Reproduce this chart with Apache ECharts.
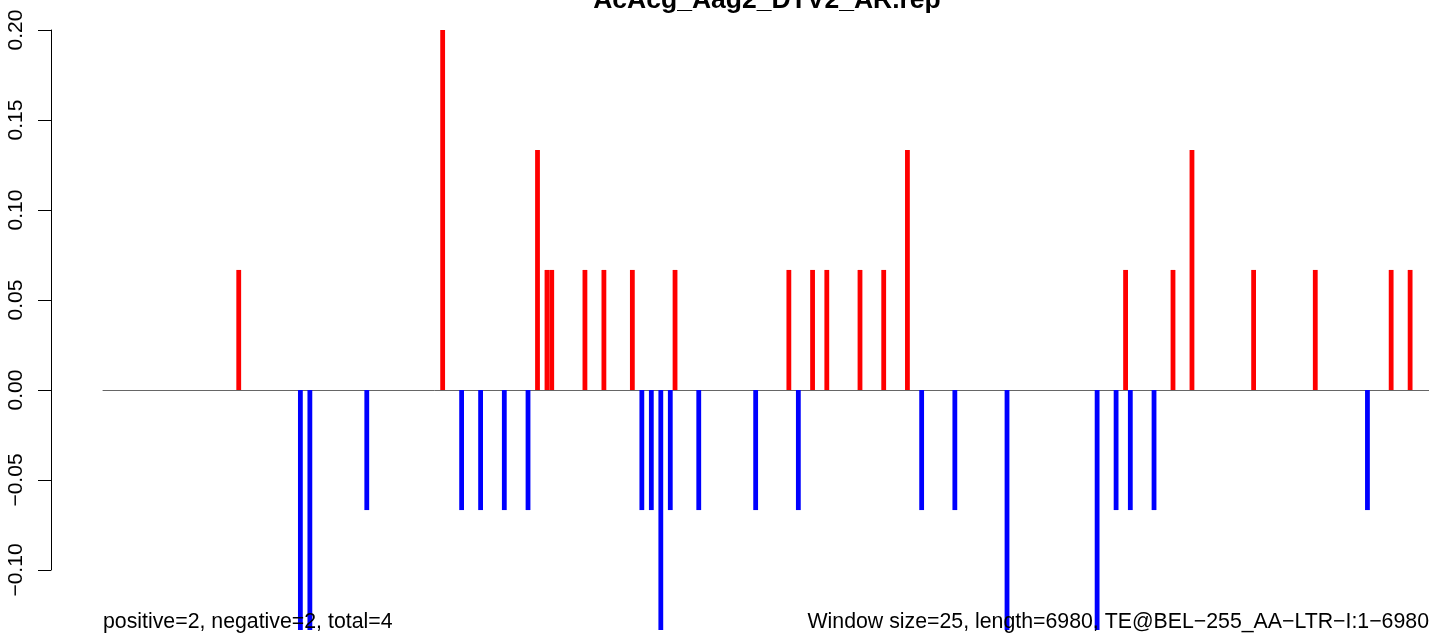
<!DOCTYPE html>
<html><head><meta charset="utf-8">
<script src="https://cdn.jsdelivr.net/npm/echarts@6/dist/echarts.min.js"></script>
<style>html,body{margin:0;padding:0;background:#fff;}#chart{width:1429px;height:634px;}</style>
</head><body><div id="chart"></div>
<script>
const chartTitle = 'AcAcg_Aag2_DTV2_AR.rep';
const footLeft = 'positive=2, negative=2, total=4';
const footRight = 'Window size=25, length=6980, TE@BEL\u2212255_AA\u2212LTR\u2212I:1\u22126980';

// window index (25 bp windows) and value
const posWindows = [28, 71, 91, 93, 94, 101, 105, 111, 120, 144, 149, 152, 159, 164, 169, 215, 225, 229, 242, 255, 271, 275];
const posValues  = [0.0667, 0.2, 0.1333, 0.0667, 0.0667, 0.0667, 0.0667, 0.0667, 0.0667, 0.0667, 0.0667, 0.0667, 0.0667, 0.0667, 0.1333, 0.0667, 0.0667, 0.1333, 0.0667, 0.0667, 0.0667, 0.0667];
const negWindows = [41, 43, 55, 75, 79, 84, 89, 113, 115, 117, 119, 125, 137, 146, 172, 179, 190, 209, 213, 216, 221, 266];
const negValues  = [-0.1333, -0.1333, -0.0667, -0.0667, -0.0667, -0.0667, -0.0667, -0.0667, -0.0667, -0.1333, -0.0667, -0.0667, -0.0667, -0.0667, -0.0667, -0.0667, -0.1333, -0.1333, -0.0667, -0.0667, -0.0667, -0.0667];
const yTicks = [-0.10, -0.05, 0.00, 0.05, 0.10, 0.15, 0.20];

const FONT = 'Liberation Sans, Arial, Helvetica, sans-serif';
const chart = echarts.init(document.getElementById('chart'), null, {renderer: 'canvas'});
chart.setOption({
  animation: false,
  backgroundColor: '#ffffff',
  title: [
    {text: chartTitle, left: 767, top: -12, padding: 0, textAlign: 'center', textVerticalAlign: 'top',
     textStyle: {fontFamily: FONT, fontSize: 26.5, fontWeight: 'bold', color: '#000', lineHeight: 26}},
    {text: footLeft, left: 103, top: 612, padding: 0, textAlign: 'left', textVerticalAlign: 'top',
     textStyle: {fontFamily: FONT, fontSize: 21.3, fontWeight: 'normal', color: '#000', lineHeight: 21}},
    {text: footRight, left: 1429, top: 612, padding: 0, textAlign: 'right', textVerticalAlign: 'top',
     textStyle: {fontFamily: FONT, fontSize: 21.3, fontWeight: 'normal', color: '#000', lineHeight: 21}}
  ],
  grid: {left: 103, right: 0, top: 30, bottom: 64, containLabel: false},
  xAxis: {
    type: 'value', min: -0.62, max: 278.98,
    axisLine: {show: true, onZero: true, lineStyle: {color: '#666', width: 1}},
    axisTick: {show: false}, axisLabel: {show: false}, splitLine: {show: false}
  },
  yAxis: {
    type: 'value', min: yTicks[0], max: yTicks[yTicks.length - 1], interval: 0.05,
    offset: 52,
    axisLine: {show: true, onZero: false, lineStyle: {color: '#000', width: 1}},
    axisTick: {show: true, length: 13, lineStyle: {color: '#000', width: 1}},
    axisLabel: {
      show: true, rotate: 90, margin: 24, fontFamily: FONT, fontSize: 21, color: '#000',
      formatter: v => (v < -1e-9 ? '\u2212' : '') + Math.abs(v).toFixed(2)
    },
    splitLine: {show: false}
  },
  series: [
    {type: 'bar', data: posWindows.map((w, i) => [w, posValues[i]]), barWidth: 4.8, barGap: '-100%',
     clip: false, itemStyle: {color: '#ff0000'}},
    {type: 'bar', data: negWindows.map((w, i) => [w, negValues[i]]), barWidth: 4.8, barGap: '-100%',
     clip: false, itemStyle: {color: '#0000ff'}}
  ]
});
</script></body></html>
